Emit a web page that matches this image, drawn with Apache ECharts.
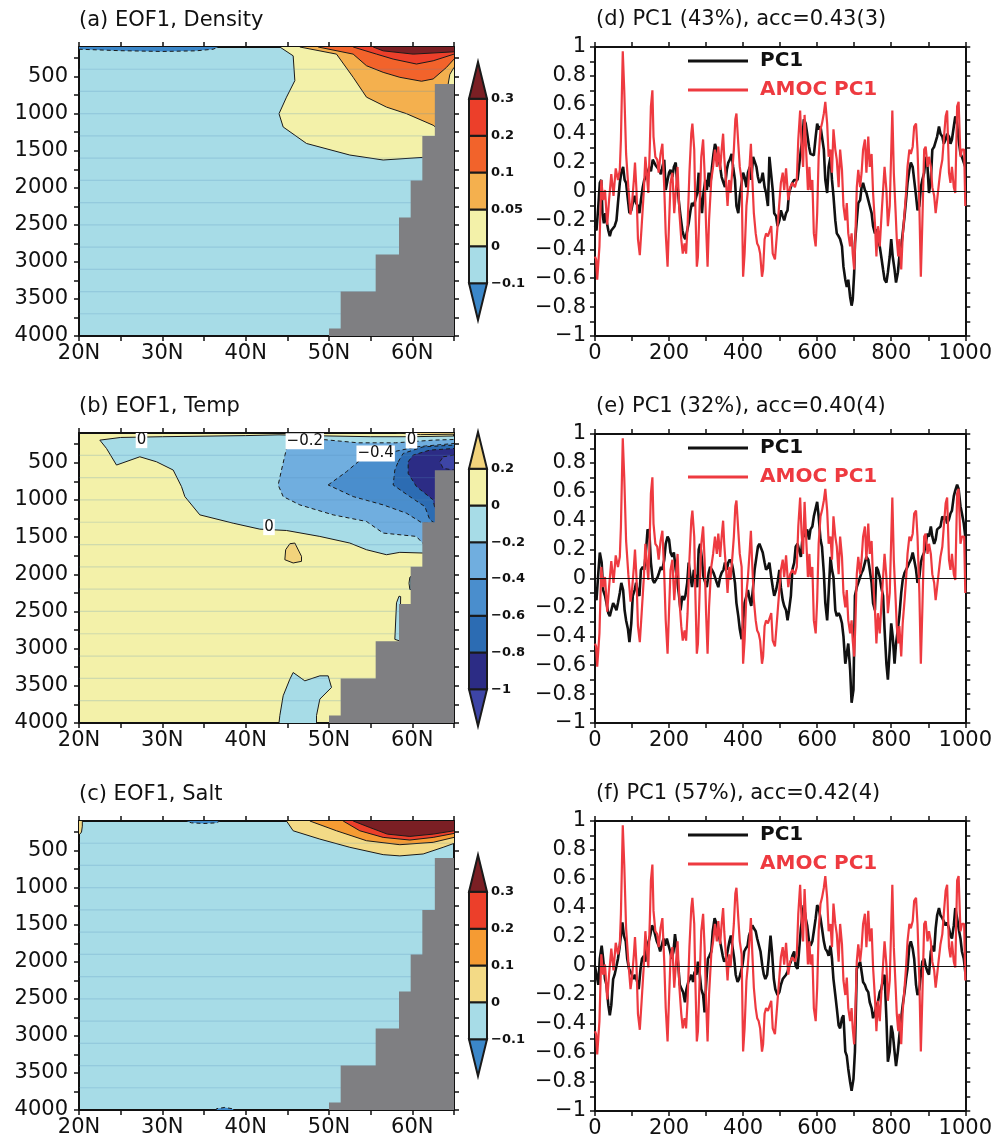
<!DOCTYPE html>
<html>
<head>
<meta charset="utf-8">
<title>EOF1 sections and PC1 time series</title>
<script src="https://cdn.jsdelivr.net/npm/echarts@6/dist/echarts.min.js"></script>
<style>
  html, body { margin: 0; padding: 0; background: #fff; }
  #chart { width: 995px; height: 1140px; }
</style>
</head>
<body>
<div id="chart"></div>
<script>
// ---------- axes / ticks ----------
var latLabels = [20, 30, 40, 50, 60];
var depthLabels = [500, 1000, 1500, 2000, 2500, 3000, 3500, 4000];
var depthTicks = [250, 500, 750, 1000, 1250, 1500, 1750, 2000, 2250, 2500, 2750, 3000, 3250, 3500, 3750, 4000];
var yearLabels = [0, 200, 400, 600, 800, 1000];
var pcLabels = [-1, -0.8, -0.6, -0.4, -0.2, 0, 0.2, 0.4, 0.6, 0.8, 1];

// model level lines seen faintly in the sections (m)
var levelDepths = [400, 700, 1000, 1300, 1600, 1900, 2200, 2500, 2800, 3100, 3400, 3700];

// bottom topography steps (lat, depth of top)
var topoLat = [50, 51.4, 55.6, 58.4, 59.8, 61.2, 62.7];
var topoDepth = [3900, 3400, 2900, 2400, 1900, 1300, 600];

// ---------- (a) density ----------
var densLevels = [-0.1, 0, 0.05, 0.1, 0.2, 0.3];
var densColors = ['#3b87c9', '#a7dce7', '#f3f1a9', '#f4b04e', '#f2632b', '#ec3f2a', '#7b1f24'];
var densBg = 1;
var densRegions = [
  { bin: 0, c: -0.1, pts: [[19, 50], [19, 130], [20, 130], [25, 150], [30, 160], [34, 152], [36.1, 130], [36.7, 100], [37, 50]] },
  { bin: 2, c: 0, pts: [[44.1, 50], [44.1, 100], [45.7, 219], [45.9, 554], [44.9, 777], [44.0, 1000], [44.5, 1179], [47.3, 1402], [52.5, 1558], [56.5, 1625], [61.2, 1590], [66, 1590], [66, 50]] },
  { bin: 3, c: 0.05, pts: [[46.5, 50], [46.5, 100], [50.9, 196], [52.9, 509], [54.5, 777], [56.9, 911], [59.3, 1000], [62.5, 1156], [63, 1200], [64.3, 600], [64.5, 470], [65, 375], [66, 375], [66, 50]] },
  { bin: 4, c: 0.1, pts: [[48.7, 50], [48.7, 100], [52.9, 196], [54.5, 353], [56.5, 442], [58.5, 509], [61.1, 562], [62.5, 531], [64.1, 375], [65, 263], [66, 263], [66, 50]] },
  { bin: 5, c: 0.2, pts: [[52.9, 50], [52.9, 100], [55.7, 196], [57.7, 263], [60.5, 330], [62.5, 286], [65, 196], [66, 196], [66, 50]] },
  { bin: 6, c: 0.3, pts: [[55.3, 50], [55.3, 100], [56.5, 152], [60.1, 196], [65, 165], [66, 165], [66, 50]] }
];

// ---------- (b) temperature ----------
var tempLevels = [-1, -0.8, -0.6, -0.4, -0.2, 0, 0.2];
var tempColors = ['#3d45a6', '#2c2c85', '#2c6cb3', '#4a8ecd', '#70aedf', '#a7dce7', '#f3f1a9', '#f2d37c'];
var tempBg = 6;
var tempRegions = [
  { bin: 5, c: 0, pts: [[22.5, 196], [25, 160], [30, 150], [40, 135], [44, 125], [50, 140], [55, 150], [60, 150], [65, 140], [66, 140], [66, 1714], [61.2, 1714], [58.5, 1705], [56.9, 1737], [54.5, 1670], [52.5, 1580], [48.9, 1491], [44.9, 1411], [41.7, 1393], [38.5, 1313], [34.5, 1201], [32.7, 955], [32.3, 821], [31.3, 598], [29.3, 487], [27.3, 420], [24.5, 531], [23.3, 308]] },
  { bin: 4, c: -0.2, pts: [[44.9, 308], [45.5, 200], [47, 170], [49.5, 190], [53.5, 232], [58, 232], [62.5, 196], [65, 187], [66, 187], [66, 1600], [61.2, 1580], [60.5, 1491], [56.5, 1446], [54.5, 1290], [50.5, 1201], [46.5, 1067], [44.5, 955], [43.9, 799], [44.3, 598]] },
  { bin: 3, c: -0.4, pts: [[49.9, 799], [52.1, 620], [53.5, 487], [57.7, 353], [60.5, 286], [65, 241], [66, 241], [66, 1320], [61.2, 1312], [59.3, 1179], [56.5, 1067], [52.9, 955]] },
  { bin: 2, c: -0.6, pts: [[58.3, 487], [58.9, 375], [61.3, 286], [65, 263], [66, 263], [66, 1300], [62.7, 1312], [62.1, 1268], [61.5, 1089], [59.7, 955], [57.7, 799], [57.9, 598]] },
  { bin: 1, c: -0.8, pts: [[59.5, 487], [60.1, 397], [62.1, 330], [65, 308], [66, 308], [66, 1112], [62.7, 1112], [62.5, 1000], [60.5, 821], [59.5, 643]] },
  { bin: 0, c: -1, pts: [[63.7, 420], [65, 397], [66, 397], [66, 620], [65, 598], [63.7, 576], [63.3, 487]] },
  { bin: 7, c: 0.2, pts: [[45.3, 1589], [45.9, 1580], [46.7, 1759], [46.7, 1826], [45.7, 1848], [44.7, 1804], [44.8, 1670]] },
  { bin: 7, c: 0.2, pts: [[58, 50], [58, 100], [61, 122], [65, 116], [66, 116], [66, 50]] },
  { bin: 5, c: 0, pts: [[58.4, 2295], [58.1, 2384], [57.9, 2875], [58.5, 2897], [58.6, 2300]] },
  { bin: 5, c: 0, pts: [[59.84, 2030], [59.7, 2040], [59.6, 2120], [59.7, 2205], [59.84, 2205]] },
  { bin: 5, c: 0, pts: [[43.9, 4100], [44.1, 3900], [44.5, 3634], [45.3, 3411], [45.7, 3321], [47.1, 3433], [48.9, 3366], [49.9, 3366], [50.3, 3522], [48.9, 3679], [48.5, 3900], [48.5, 4100]] }
];
var tempLabels = [[27.5, 196, '0'], [47.1, 210, '\u22120.2'], [55.6, 375, '\u22120.4'], [59.9, 200, '0'], [42.8, 1366, '0']];

// ---------- (c) salinity ----------
var saltLevels = [-0.1, 0, 0.1, 0.2, 0.3];
var saltColors = ['#3b87c9', '#a7dce7', '#f3da86', '#f59b33', '#ec3f2a', '#7b1f24'];
var saltBg = 1;
var saltRegions = [
  { bin: 2, c: 0, pts: [[19, 50], [19, 290], [20, 290], [20.3, 250], [20.4, 170], [20.4, 100], [20.5, 50]] },
  { bin: 0, c: -0.1, pts: [[32.9, 50], [32.9, 100], [33.5, 125], [35, 134], [36.5, 125], [36.9, 100], [36.9, 50]] },
  { bin: 0, c: -0.1, pts: [[36.1, 4100], [36.5, 3982], [37.5, 3965], [38.5, 3985], [38.7, 4100]] },
  { bin: 2, c: 0, pts: [[44.9, 50], [44.9, 100], [45.7, 232], [48.9, 344], [52.5, 455], [56.5, 554], [58.5, 571], [61.3, 545], [63.7, 455], [65, 402], [66, 402], [66, 50]] },
  { bin: 3, c: 0.1, pts: [[47.7, 50], [47.7, 100], [50.9, 232], [54.5, 366], [58.5, 420], [62.5, 388], [65, 321], [66, 321], [66, 50]] },
  { bin: 4, c: 0.2, pts: [[51.7, 50], [51.7, 100], [53.7, 232], [56.5, 321], [59.7, 357], [62.5, 321], [65, 268], [66, 268], [66, 50]] },
  { bin: 5, c: 0.3, pts: [[52.9, 50], [52.9, 100], [54.9, 188], [57, 277], [59.7, 308], [62.5, 277], [65, 232], [66, 232], [66, 50]] }
];

// ---------- time series [year, value] ----------
var amocPC1 = [[0,-0.45],[3,-0.47],[6,-0.61],[12,-0.38],[17,0.08],[22,-0.06],[27,0.01],[33,-0.23],[38,-0.06],[44,0.12],[50,-0.03],[56,0.16],[62,0.08],[67,0.15],[70,0.36],[75,0.97],[79,0.70],[84,0.26],[90,0.03],[96,-0.16],[100,-0.08],[105,0.08],[108,0.20],[112,0.01],[116,-0.33],[121,-0.44],[126,-0.24],[132,0.01],[136,0.24],[140,0.25],[144,-0.01],[148,0.31],[151,0.59],[155,0.70],[158,0.38],[163,0.24],[168,0.22],[172,0.13],[177,0.26],[182,0.33],[187,0.03],[191,-0.29],[196,-0.52],[200,-0.22],[204,0.06],[209,0.13],[214,-0.15],[219,0.03],[223,0.17],[228,-0.15],[233,-0.33],[237,-0.43],[242,-0.36],[246,-0.43],[250,-0.24],[255,0.13],[260,0.40],[263,0.47],[268,0.29],[271,-0.10],[275,-0.52],[278,-0.45],[283,-0.06],[287,0.24],[292,0.36],[296,0.13],[300,-0.24],[304,-0.52],[308,-0.20],[314,0.08],[319,0.17],[324,0.29],[329,0.17],[333,0.31],[338,0.15],[342,0.29],[346,0.40],[349,0.24],[354,0.06],[358,-0.10],[362,0.08],[366,-0.01],[371,0.15],[375,0.29],[379,0.50],[382,0.54],[387,0.33],[391,0.17],[396,0.08],[400,-0.59],[404,-0.43],[409,-0.10],[413,0.01],[418,0.20],[421,0.33],[425,0.08],[429,-0.15],[434,-0.29],[438,-0.36],[442,-0.38],[446,-0.43],[451,-0.59],[454,-0.54],[458,-0.33],[462,-0.29],[467,-0.31],[471,-0.30],[476,-0.24],[480,-0.43],[486,-0.47],[493,-0.24],[502,0.06],[507,0.13],[511,0.01],[516,0.16],[522,-0.06],[527,0.03],[533,0.06],[540,0.03],[545,0.08],[549,0.36],[554,0.56],[558,0.31],[562,0.17],[566,0.53],[571,0.24],[575,0.01],[579,0.17],[582,0.01],[587,0.08],[591,-0.29],[596,-0.38],[600,-0.15],[604,0.24],[609,0.43],[613,0.47],[618,0.54],[622,0.62],[627,0.47],[631,0.24],[636,0.29],[640,0.13],[644,0.43],[649,0.29],[653,0.22],[658,0.03],[662,0.29],[667,0.15],[671,-0.10],[676,-0.20],[680,-0.08],[684,-0.29],[689,-0.38],[693,-0.29],[696,-0.43],[700,-0.54],[703,-0.33],[707,0.03],[711,0.15],[716,0.03],[720,0.13],[724,0.29],[729,0.36],[733,0.13],[738,0.38],[742,0.17],[747,0.26],[751,-0.01],[756,-0.22],[760,-0.45],[764,-0.24],[769,-0.38],[773,-0.20],[778,0.01],[782,0.17],[787,0.01],[791,-0.24],[796,-0.10],[803,0.56],[807,0.13],[812,-0.15],[815,-0.33],[819,-0.45],[822,-0.33],[827,-0.54],[831,-0.31],[836,-0.15],[840,-0.01],[844,0.17],[849,0.29],[853,0.26],[858,0.31],[862,0.45],[867,0.47],[871,0.29],[876,-0.10],[880,-0.59],[884,-0.22],[889,0.29],[893,0.31],[898,0.17],[902,0.24],[907,0.17],[911,0.03],[916,-0.03],[920,-0.15],[924,-0.06],[929,0.06],[933,0.15],[938,0.22],[942,0.36],[947,0.52],[951,0.56],[956,0.13],[960,0.06],[964,0.17],[969,0.03],[973,-0.01],[978,0.59],[982,0.62],[987,0.24],[991,0.29],[997,0.29],[1000,-0.10]];

var pc1Density = [[0,-0.24],[4,-0.27],[9,-0.10],[13,0.06],[17,0.08],[20,-0.15],[24,-0.22],[28,-0.15],[31,-0.20],[36,-0.27],[40,-0.31],[44,-0.27],[49,-0.28],[53,-0.24],[58,-0.20],[62,-0.08],[67,0.06],[71,0.13],[76,0.17],[80,0.08],[84,0.06],[89,-0.06],[93,-0.15],[98,-0.13],[102,-0.08],[107,-0.03],[111,-0.08],[116,-0.10],[120,-0.15],[124,-0.06],[129,0.03],[133,0.08],[138,0.10],[142,0.13],[147,0.17],[151,0.14],[156,0.22],[160,0.20],[164,0.18],[169,0.17],[173,0.15],[178,0.12],[182,0.17],[187,0.22],[191,0.01],[196,0.08],[200,0.13],[204,0.15],[209,0.10],[213,0.17],[218,0.20],[222,0.06],[227,-0.08],[231,-0.17],[236,-0.27],[240,-0.31],[244,-0.33],[249,-0.27],[253,-0.22],[258,-0.13],[262,-0.08],[267,-0.10],[271,-0.06],[276,-0.01],[280,0.13],[284,-0.03],[289,-0.15],[293,-0.01],[298,0.08],[302,0.01],[307,0.13],[311,0.03],[316,0.17],[320,0.26],[324,0.33],[329,0.29],[333,0.24],[338,0.17],[342,0.10],[347,0.06],[351,0.03],[356,0.15],[360,0.20],[364,0.22],[369,0.26],[373,0.17],[378,0.08],[382,-0.10],[387,-0.15],[391,-0.03],[396,0.06],[400,0.13],[404,0.10],[409,0.03],[413,0.13],[418,0.17],[422,0.08],[427,0.24],[431,0.25],[436,0.17],[440,0.10],[444,0.06],[449,0.08],[453,0.13],[458,0.03],[462,-0.01],[467,-0.10],[471,0.24],[476,0.24],[480,0.01],[484,-0.15],[489,-0.17],[493,-0.24],[498,-0.20],[502,-0.13],[507,-0.17],[511,-0.20],[516,-0.15],[520,-0.13],[524,-0.01],[529,0.03],[533,0.06],[538,0.08],[542,0.09],[547,0.08],[551,0.17],[556,0.29],[560,0.36],[564,0.50],[569,0.47],[573,0.40],[578,0.31],[582,0.26],[591,0.25],[596,0.38],[600,0.47],[604,0.43],[609,0.45],[613,0.38],[618,0.29],[622,0.08],[627,-0.01],[631,0.17],[636,0.24],[640,0.08],[644,-0.03],[649,-0.20],[653,-0.29],[658,-0.31],[662,-0.33],[667,-0.38],[671,-0.52],[676,-0.61],[680,-0.66],[684,-0.61],[689,-0.73],[693,-0.79],[696,-0.75],[700,-0.56],[702,-0.36],[707,-0.20],[711,-0.08],[716,-0.06],[720,0.03],[724,0.06],[729,0.01],[733,-0.01],[738,-0.06],[742,-0.10],[747,-0.15],[751,-0.24],[756,-0.29],[760,-0.26],[764,-0.33],[769,-0.38],[773,-0.45],[778,-0.54],[782,-0.61],[787,-0.63],[791,-0.56],[796,-0.45],[800,-0.33],[804,-0.45],[809,-0.54],[813,-0.63],[818,-0.56],[822,-0.45],[827,-0.38],[831,-0.29],[836,-0.17],[840,-0.06],[844,0.06],[849,0.15],[853,0.20],[858,0.17],[862,0.08],[867,-0.03],[871,-0.13],[876,-0.10],[880,0.03],[884,0.08],[889,0.13],[893,0.24],[898,0.17],[902,-0.01],[907,0.08],[911,0.29],[916,0.31],[920,0.31],[924,0.38],[929,0.45],[933,0.40],[938,0.38],[942,0.33],[947,0.36],[951,0.40],[956,0.38],[960,0.33],[964,0.36],[969,0.45],[973,0.52],[978,0.47],[982,0.36],[987,0.26],[991,0.24],[996,0.20],[1000,0.17]];

var pc1Temp = [[0,-0.12],[4,-0.15],[9,0.04],[13,0.18],[18,0.11],[22,-0.08],[27,-0.12],[31,-0.17],[36,-0.24],[40,-0.26],[44,-0.22],[49,-0.17],[53,-0.19],[58,-0.22],[62,-0.17],[67,-0.10],[71,-0.03],[76,-0.08],[80,-0.22],[84,-0.29],[89,-0.35],[93,-0.44],[98,-0.31],[102,-0.12],[107,-0.08],[111,-0.03],[116,-0.10],[120,-0.12],[124,0.06],[129,0.08],[133,0.06],[138,0.20],[142,0.34],[147,0.31],[151,0.11],[156,-0.01],[160,-0.03],[164,-0.02],[169,0.01],[173,0.04],[178,0.08],[182,0.06],[187,0.13],[191,0.24],[196,0.29],[200,0.27],[204,0.18],[209,0.15],[213,0.18],[218,0.06],[222,-0.01],[227,-0.12],[231,-0.22],[236,-0.12],[240,-0.15],[244,-0.12],[249,-0.03],[253,0.11],[258,0.01],[262,-0.06],[267,0.06],[271,0.01],[276,-0.06],[280,0.20],[284,0.24],[289,0.13],[293,0.01],[298,-0.03],[302,-0.06],[307,0.04],[311,0.08],[316,0.06],[320,0.04],[324,0.01],[329,-0.03],[333,-0.06],[338,0.01],[342,0.04],[347,0.06],[351,0.11],[356,0.06],[360,0.11],[364,0.13],[369,0.11],[373,0.06],[378,-0.03],[382,-0.17],[387,-0.26],[391,-0.35],[396,-0.42],[400,-0.31],[404,-0.17],[409,-0.17],[413,-0.08],[418,-0.15],[422,-0.19],[427,-0.06],[431,0.06],[436,0.15],[440,0.22],[444,0.24],[449,0.23],[453,0.18],[458,0.11],[462,0.06],[467,0.08],[471,0.11],[476,0.01],[480,-0.06],[484,-0.12],[489,-0.08],[493,-0.03],[498,0.06],[502,-0.06],[507,-0.15],[511,-0.19],[516,-0.22],[520,-0.29],[524,-0.22],[529,-0.12],[533,0.06],[538,0.11],[542,0.22],[547,0.24],[551,0.20],[556,0.15],[560,0.27],[564,0.31],[569,0.29],[573,0.34],[578,0.27],[582,0.34],[587,0.36],[591,0.43],[596,0.43],[600,0.53],[604,0.43],[609,0.27],[613,0.22],[618,0.04],[622,-0.17],[627,-0.29],[631,-0.10],[636,0.15],[640,0.06],[644,0.01],[649,-0.22],[653,-0.26],[658,-0.24],[662,-0.26],[667,-0.31],[671,-0.40],[676,-0.59],[680,-0.59],[684,-0.45],[689,-0.63],[693,-0.86],[698,-0.77],[702,-0.12],[707,-0.06],[711,-0.03],[716,0.01],[720,0.04],[724,0.06],[729,0.11],[733,0.15],[738,0.13],[742,0.06],[747,-0.03],[751,-0.17],[756,-0.22],[760,0.08],[764,0.06],[769,0.01],[773,-0.06],[778,-0.12],[782,-0.35],[787,-0.59],[791,-0.70],[796,-0.49],[800,-0.31],[804,-0.40],[809,-0.59],[813,-0.45],[818,-0.35],[822,-0.26],[827,-0.10],[831,-0.01],[836,0.04],[840,0.06],[844,0.08],[849,0.11],[853,0.13],[858,0.18],[862,0.13],[867,0.06],[871,-0.03],[876,0.01],[880,0.11],[884,0.15],[889,0.18],[893,0.24],[898,0.31],[902,0.29],[907,0.36],[911,0.29],[916,0.24],[920,0.27],[924,0.34],[929,0.34],[933,0.36],[938,0.43],[942,0.41],[947,0.43],[951,0.38],[956,0.41],[960,0.45],[964,0.47],[969,0.57],[973,0.61],[978,0.65],[982,0.62],[987,0.50],[991,0.45],[996,0.38],[1000,0.29]];

var pc1Salt = [[0,0.00],[4,-0.06],[9,-0.13],[13,0.05],[18,0.14],[22,0.05],[27,-0.09],[31,-0.13],[36,-0.27],[40,-0.34],[44,-0.27],[49,-0.09],[53,-0.06],[58,0.00],[62,0.05],[67,0.14],[71,0.24],[74,0.30],[78,0.21],[83,0.17],[87,0.05],[92,-0.02],[96,-0.04],[100,-0.06],[105,-0.09],[109,-0.06],[114,-0.11],[118,-0.16],[123,-0.02],[127,0.05],[132,0.07],[136,0.03],[140,0.14],[145,0.17],[149,0.21],[154,0.28],[158,0.26],[163,0.21],[167,0.17],[172,0.14],[176,0.10],[180,0.14],[185,0.19],[189,0.14],[194,0.19],[198,0.19],[203,0.10],[207,0.05],[212,0.10],[216,0.22],[220,0.14],[225,0.00],[229,-0.13],[234,-0.16],[238,-0.18],[243,-0.25],[247,-0.16],[252,-0.11],[256,-0.09],[260,-0.06],[265,-0.11],[269,-0.04],[274,-0.06],[278,0.03],[283,-0.06],[287,-0.16],[292,-0.20],[296,-0.32],[300,-0.13],[305,0.05],[309,0.07],[314,0.10],[318,0.24],[323,0.33],[327,0.30],[332,0.24],[336,0.19],[340,0.14],[345,0.07],[349,0.03],[354,0.05],[358,0.10],[363,0.17],[367,0.21],[372,0.12],[376,0.05],[380,-0.06],[385,-0.11],[389,-0.09],[394,-0.04],[398,0.00],[403,0.10],[407,0.12],[412,0.14],[416,0.21],[420,0.24],[425,0.28],[429,0.26],[434,0.24],[438,0.19],[443,0.14],[447,0.10],[452,0.00],[456,-0.06],[460,-0.09],[465,-0.06],[469,0.05],[474,0.21],[478,0.10],[483,-0.09],[487,-0.16],[493,-0.20],[498,-0.18],[502,-0.13],[507,-0.09],[511,-0.09],[516,-0.06],[520,-0.04],[524,0.00],[529,0.03],[533,0.07],[538,0.10],[542,0.00],[547,-0.02],[551,0.10],[556,0.26],[560,0.35],[564,0.42],[569,0.33],[573,0.28],[578,0.17],[582,0.14],[587,0.17],[591,0.24],[596,0.33],[600,0.42],[604,0.40],[609,0.33],[613,0.26],[618,0.17],[622,0.12],[627,0.10],[631,0.07],[636,0.14],[640,0.05],[644,-0.09],[649,-0.20],[653,-0.29],[658,-0.41],[662,-0.43],[667,-0.36],[671,-0.34],[676,-0.59],[680,-0.62],[684,-0.71],[689,-0.80],[693,-0.86],[698,-0.78],[702,-0.59],[707,-0.02],[711,0.00],[716,0.03],[720,-0.04],[724,-0.11],[729,-0.13],[733,-0.16],[738,-0.18],[742,-0.25],[747,-0.29],[751,-0.36],[756,-0.32],[760,-0.27],[764,-0.25],[769,-0.18],[773,-0.16],[778,-0.09],[782,-0.06],[787,-0.36],[791,-0.66],[796,-0.59],[800,-0.41],[804,-0.46],[809,-0.59],[813,-0.69],[818,-0.59],[822,-0.48],[827,-0.36],[831,-0.27],[836,-0.18],[840,-0.09],[844,-0.02],[849,0.14],[853,0.17],[858,0.12],[862,0.05],[867,-0.13],[871,-0.20],[876,-0.16],[880,-0.06],[884,0.03],[889,0.05],[893,0.00],[898,-0.04],[902,-0.06],[907,0.10],[911,0.14],[916,0.10],[920,0.26],[924,0.35],[929,0.40],[933,0.35],[938,0.33],[942,0.33],[947,0.28],[951,0.30],[956,0.26],[960,0.21],[964,0.19],[969,0.28],[973,0.40],[978,0.33],[982,0.26],[987,0.19],[991,0.10],[996,0.05],[1000,-0.04]];

var mapTitles = ['(a) EOF1, Density', '(b) EOF1, Temp', '(c) EOF1, Salt'];
var pcTitles = ['(d) PC1 (43%), acc=0.43(3)', '(e) PC1 (32%), acc=0.40(4)', '(f) PC1 (57%), acc=0.42(4)'];

// ---------- layout ----------
var FONT = 'DejaVu Sans';
var INK = '#111';
var RED = '#ee3a40';
var mapGrids = [
  { left: 79, top: 47, width: 375, height: 289 },
  { left: 79, top: 433, width: 375, height: 290 },
  { left: 79, top: 821, width: 375, height: 289 }
];
var pcGrids = [
  { left: 595, top: 47, width: 376, height: 289 },
  { left: 595, top: 434, width: 376, height: 289 },
  { left: 595, top: 821, width: 376, height: 290 }
];

function minus(v) {
  return v < 0 ? '\u2212' + Math.abs(v) : String(v);
}

var lineAx = { show: true, onZero: false, lineStyle: { color: INK, width: 2 } };
var tickSt = { color: INK, width: 1.5 };
var labelSt = { fontFamily: FONT, fontSize: 21, color: INK };

function mapAxes(gi) {
  var x = { gridIndex: gi, type: 'value', min: 20, max: 65, interval: 5, axisLine: lineAx,
    axisTick: { show: true, length: 5, lineStyle: tickSt }, splitLine: { show: false } };
  var y = { gridIndex: gi, type: 'value', inverse: true, min: 100, max: 4000, axisLine: lineAx,
    axisTick: { show: true, length: 5, customValues: depthTicks, lineStyle: tickSt }, splitLine: { show: false } };
  return {
    x: [
      Object.assign({}, x, { position: 'bottom', axisLabel: Object.assign({ customValues: latLabels, margin: 7, formatter: function (v) { return v + 'N'; } }, labelSt) }),
      Object.assign({}, x, { position: 'top', axisLabel: { show: false } })
    ],
    y: [
      Object.assign({}, y, { position: 'left', axisLabel: Object.assign({ customValues: depthLabels, margin: 11, formatter: function (v) { return String(v); } }, labelSt) }),
      Object.assign({}, y, { position: 'right', axisLabel: { show: false } })
    ]
  };
}

function pcAxes(gi) {
  var x = { gridIndex: gi, type: 'value', min: 0, max: 1000, interval: 100, axisLine: lineAx,
    axisTick: { show: true, length: 5, lineStyle: tickSt }, splitLine: { show: false } };
  var y = { gridIndex: gi, type: 'value', min: -1, max: 1, interval: 0.1, axisLine: lineAx,
    axisTick: { show: true, length: 5, lineStyle: tickSt }, splitLine: { show: false } };
  return {
    x: [
      Object.assign({}, x, { position: 'bottom', axisLabel: Object.assign({ customValues: yearLabels, margin: 7, formatter: function (v) { return String(v); } }, labelSt) }),
      Object.assign({}, x, { position: 'top', axisLabel: { show: false } })
    ],
    y: [
      Object.assign({}, y, { position: 'left', axisLabel: Object.assign({ customValues: pcLabels, margin: 9, formatter: function (v) { return minus(parseFloat(v.toFixed(1))); } }, labelSt) }),
      Object.assign({}, y, { position: 'right', axisLabel: { show: false } })
    ]
  };
}

// filled contour regions, stroked with their contour line
function fillSeries(ai, regions, colors) {
  return {
    type: 'custom', xAxisIndex: ai, yAxisIndex: ai, clip: true, silent: true, z: 2,
    data: regions.map(function () { return [40, 2000]; }),
    renderItem: function (params, api) {
      var r = regions[params.dataIndex];
      return {
        type: 'polygon',
        shape: { points: r.pts.map(function (p) { return api.coord(p); }) },
        style: { fill: colors[r.bin], stroke: '#1a1a1a', lineWidth: 1, lineDash: r.c < 0 ? [4, 3] : null }
      };
    }
  };
}

function levelSeries(ai) {
  return {
    type: 'custom', xAxisIndex: ai, yAxisIndex: ai, clip: true, silent: true, z: 3,
    data: levelDepths.map(function (d) { return [40, d]; }),
    renderItem: function (params, api) {
      var d = api.value(1);
      var a = api.coord([20, d]), b = api.coord([65, d]);
      return {
        type: 'line',
        shape: { x1: a[0], y1: a[1], x2: b[0], y2: b[1] },
        style: { stroke: 'rgba(80,140,185,0.22)', lineWidth: 1.2 }
      };
    }
  };
}

function topoSeries(ai) {
  var pts = [[topoLat[0], 4100]];
  for (var i = 0; i < topoLat.length; i++) {
    pts.push([topoLat[i], topoDepth[i]]);
    pts.push([i + 1 < topoLat.length ? topoLat[i + 1] : 66, topoDepth[i]]);
  }
  pts.push([66, 4100]);
  return {
    type: 'custom', xAxisIndex: ai, yAxisIndex: ai, clip: true, silent: true, z: 4,
    data: [[60, 3000]],
    renderItem: function (params, api) {
      return {
        type: 'polygon',
        shape: { points: pts.map(function (p) { return api.coord(p); }) },
        style: { fill: '#7f7f82' }
      };
    }
  };
}

function labelSeries(ai, labels) {
  return {
    type: 'custom', xAxisIndex: ai, yAxisIndex: ai, clip: true, silent: true, z: 5,
    data: labels.map(function (l) { return [l[0], l[1]]; }),
    renderItem: function (params, api) {
      var p = api.coord([api.value(0), api.value(1)]);
      return {
        type: 'text', x: p[0], y: p[1],
        style: { text: labels[params.dataIndex][2], fill: INK, font: '15px "DejaVu Sans"', align: 'center', verticalAlign: 'middle',
          backgroundColor: '#fff', padding: [1, 1, 0, 1] }
      };
    }
  };
}

function pcSeries(ai, name, data, color, width, withZero) {
  var s = {
    type: 'line', name: name, xAxisIndex: ai, yAxisIndex: ai, data: data,
    showSymbol: false, symbol: 'none', z: width > 2.4 ? 3 : 4,
    lineStyle: { color: color, width: width }, itemStyle: { color: color }
  };
  if (withZero) {
    s.markLine = { silent: true, symbol: ['none', 'none'], label: { show: false },
      lineStyle: { color: INK, width: 1, type: 'solid' }, data: [{ yAxis: 0 }] };
  }
  return s;
}

// colour bar with end triangles
function colorbar(x, y0, y1, levels, colors) {
  var n = colors.length, h = (y1 - y0) / n, w = 18, els = [];
  for (var k = 0; k < n; k++) {
    var top = y1 - (k + 1) * h;
    var shape;
    if (k === 0) {
      shape = { type: 'polygon', shape: { points: [[x, top], [x + w, top], [x + w / 2, top + h]] } };
    } else if (k === n - 1) {
      shape = { type: 'polygon', shape: { points: [[x, top + h], [x + w, top + h], [x + w / 2, top]] } };
    } else {
      shape = { type: 'rect', shape: { x: x, y: top, width: w, height: h } };
    }
    shape.style = { fill: colors[k], stroke: '#1a1a1a', lineWidth: 2 };
    els.push(shape);
  }
  levels.forEach(function (v, i) {
    els.push({ type: 'text', x: x + w + 4, y: y1 - (i + 1) * h,
      style: { text: minus(v), fill: INK, font: 'bold 13px "DejaVu Sans"', verticalAlign: 'middle' } });
  });
  return els;
}

var grids = [], xAxes = [], yAxes = [], series = [], titles = [], legends = [];

mapGrids.forEach(function (g, i) {
  var bg = [densColors[densBg], tempColors[tempBg], saltColors[saltBg]][i];
  grids.push(Object.assign({ show: true, backgroundColor: bg, borderWidth: 0 }, g));
  var ax = mapAxes(grids.length - 1);
  xAxes = xAxes.concat(ax.x);
  yAxes = yAxes.concat(ax.y);
  titles.push({ text: mapTitles[i], left: g.left, top: g.top - 37, padding: 0,
    textStyle: { fontFamily: FONT, fontSize: 21, fontWeight: 'normal', color: INK } });
});
pcGrids.forEach(function (g, i) {
  grids.push(g);
  var ax = pcAxes(grids.length - 1);
  xAxes = xAxes.concat(ax.x);
  yAxes = yAxes.concat(ax.y);
  titles.push({ text: pcTitles[i], left: g.left + 1, top: g.top - 38, padding: 0,
    textStyle: { fontFamily: FONT, fontSize: 21, fontWeight: 'normal', color: INK } });
  legends.push({
    left: 688, top: g.top + 4, orient: 'vertical', icon: 'rect', itemWidth: 60, itemHeight: 3, itemGap: 9,
    selectedMode: false, padding: 0,
    textStyle: { fontFamily: FONT, fontSize: 20, fontWeight: 'bold', lineHeight: 20, padding: [0, 0, 0, 7] },
    data: [{ name: 'PC1', textStyle: { color: INK } }, { name: 'AMOC PC1', textStyle: { color: RED } }]
  });
});

// map panels: axis index = 2 * panel
var mapSets = [[densRegions, densColors, null], [tempRegions, tempColors, tempLabels], [saltRegions, saltColors, null]];
mapSets.forEach(function (m, i) {
  var ai = 2 * i;
  series.push(fillSeries(ai, m[0], m[1]));
  series.push(levelSeries(ai));
  series.push(topoSeries(ai));
  if (m[2]) series.push(labelSeries(ai, m[2]));
});

var pcSets = [pc1Density, pc1Temp, pc1Salt];
pcSets.forEach(function (d, i) {
  var ai = 2 * (i + 3);
  series.push(pcSeries(ai, 'PC1', d, INK, 2.6, true));
  series.push(pcSeries(ai, 'AMOC PC1', amocPC1, RED, 2.2, false));
});

var graphics = []
  .concat(colorbar(469, 62, 320, densLevels, densColors))
  .concat(colorbar(469, 432, 726, tempLevels, tempColors))
  .concat(colorbar(469, 855, 1076, saltLevels, saltColors));

var chart = echarts.init(document.getElementById('chart'), null, { renderer: 'canvas' });
chart.setOption({
  animation: false,
  backgroundColor: '#fff',
  title: titles,
  legend: legends,
  grid: grids,
  xAxis: xAxes,
  yAxis: yAxes,
  series: series,
  graphic: { elements: graphics }
});
</script>
</body>
</html>
